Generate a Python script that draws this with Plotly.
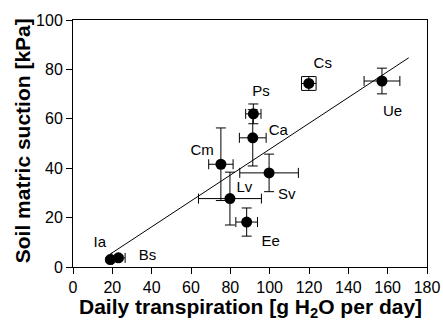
import plotly.graph_objects as go

species = ["Ia", "Bs", "Cm", "Lv", "Ee", "Ca", "Ps", "Sv", "Cs", "Ue"]
transpiration = [19.0, 23.1, 75.2, 79.8, 88.3, 91.4, 91.7, 99.7, 119.9, 157.1]
transpiration_err = [1.0, 3.4, 6.2, 16.0, 5.5, 6.8, 3.9, 14.9, 3.7, 9.1]
suction = [3.0, 3.7, 41.6, 27.7, 18.2, 52.3, 62.0, 38.1, 74.3, 75.3]
suction_err = [0.8, 0.8, 14.7, 10.7, 5.7, 11.4, 4.0, 7.6, 2.8, 5.2]

label_x = [13.6, 37.9, 65.7, 87.1, 100.5, 104.4, 95.6, 108.7, 127.0, 162.5]
label_y = [9.5, 4.3, 47.0, 31.8, 9.9, 55.0, 70.7, 29.1, 82.2, 62.7]

fit_x = [18.7, 170.7]
fit_y = [5.1, 84.7]

x_ticks = [0, 20, 40, 60, 80, 100, 120, 140, 160, 180]
y_ticks = [0, 20, 40, 60, 80, 100]

x_title = "<b>Daily transpiration [g H<sub>2</sub>O per day]</b>"
y_title = "<b>Soil matric suction [kPa]</b>"

font = "Liberation Sans, Arial, sans-serif"

boxed = [s == "Cs" for s in species]


def pick(values, keep):
    return [v for v, k in zip(values, keep) if k]


fig = go.Figure()
fig.add_trace(go.Scatter(x=fit_x, y=fit_y, mode="lines",
                         line=dict(color="black", width=1), showlegend=False))
for keep, cap in [([not b for b in boxed], 5), (boxed, 7)]:
    fig.add_trace(go.Scatter(
        x=pick(transpiration, keep), y=pick(suction, keep), mode="markers",
        marker=dict(color="black", size=11),
        error_x=dict(type="data", array=pick(transpiration_err, keep), color="black",
                     thickness=1, width=cap),
        error_y=dict(type="data", array=pick(suction_err, keep), color="black",
                     thickness=1, width=cap),
        showlegend=False))
fig.add_trace(go.Scatter(x=label_x, y=label_y, mode="text", text=species,
                         textfont=dict(family=font, size=15, color="black"),
                         showlegend=False))

axis_common = dict(showline=True, linecolor="black", linewidth=1, mirror=True,
                   ticks="outside", ticklen=6, tickcolor="black", showgrid=False,
                   zeroline=False, automargin=False,
                   tickfont=dict(family=font, size=16, color="black"))

fig.update_xaxes(range=[0, 180], tickvals=x_ticks, **axis_common)
fig.update_yaxes(range=[0, 100], tickvals=y_ticks, **axis_common)

fig.add_annotation(text=x_title, xref="paper", yref="paper", x=0.5, y=-0.166,
                   xanchor="center", yanchor="middle", showarrow=False,
                   font=dict(family=font, size=21, color="black"))
fig.add_annotation(text=y_title, xref="paper", yref="paper", x=-0.142, y=0.512,
                   xanchor="center", yanchor="middle", showarrow=False, textangle=-90,
                   font=dict(family=font, size=21, color="black"))

fig.update_layout(width=443, height=320, margin=dict(l=73, r=16, t=20, b=53),
                  plot_bgcolor="white", paper_bgcolor="white")

fig.write_html("out.html")
